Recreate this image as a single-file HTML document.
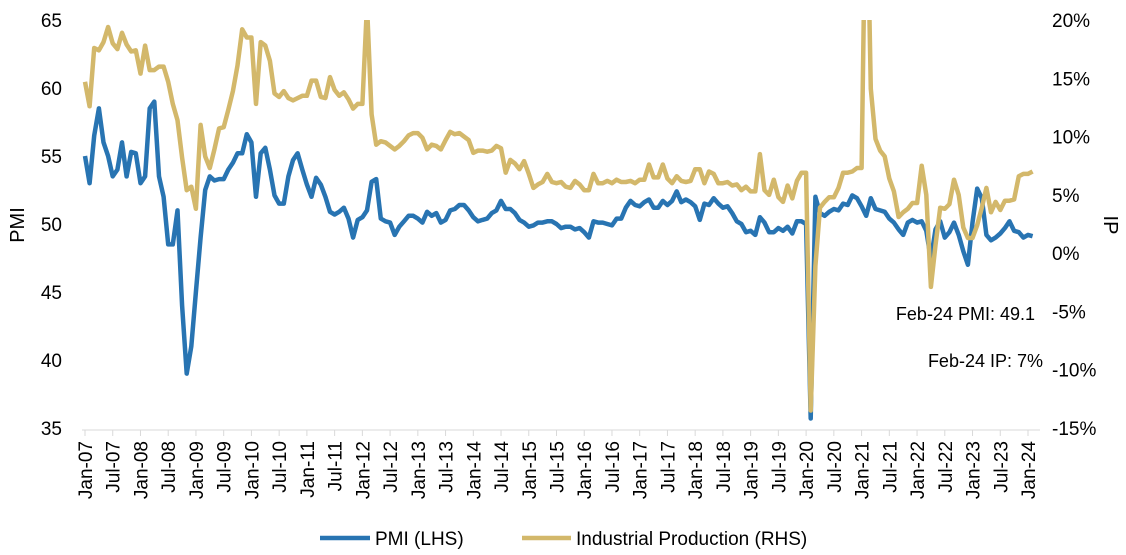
<!DOCTYPE html>
<html><head><meta charset="utf-8"><style>
body{margin:0;background:#fff;}
svg{display:block;font-family:"Liberation Sans",sans-serif;}
</style></head><body>
<svg id="c" width="1126" height="555"></svg>
<script>
const years=['07','08','09','10','11','12','13','14','15','16','17','18','19','20','21','22','23','24'];
const pmi=[55,53,56.5,58.5,56,55,53.5,54,56,53.5,55.3,55.2,
53,53.5,58.5,59,53.5,52,48.5,48.5,51,44,39,41,
45,49,52.5,53.5,53.2,53.3,53.3,54,54.5,55.2,55.2,56.6,
56,52,55.2,55.6,54,52.1,51.5,51.5,53.5,54.7,55.2,54,
52.9,52,53.4,52.9,52,50.9,50.7,50.9,51.2,50.4,49,50.3,
50.5,51,53.1,53.3,50.4,50.2,50.1,49.2,49.8,50.2,50.6,50.6,
50.4,50.1,50.9,50.6,50.8,50.1,50.3,51,51.1,51.4,51.4,51,
50.5,50.2,50.3,50.4,50.8,51,51.7,51.1,51.1,50.8,50.3,50.1,
49.8,49.9,50.1,50.1,50.2,50.2,50,49.7,49.8,49.8,49.6,49.7,
49.4,49,50.2,50.1,50.1,50,49.9,50.4,50.4,51.2,51.7,51.4,
51.3,51.6,51.8,51.2,51.2,51.7,51.4,51.7,52.4,51.6,51.8,51.6,
51.3,50.3,51.5,51.4,51.9,51.5,51.2,51.3,50.8,50.2,50,49.4,
49.5,49.2,50.5,50.1,49.4,49.4,49.7,49.5,49.8,49.3,50.2,50.2,
50,35.7,52,50.8,50.6,50.9,51.1,51,51.5,51.4,52.1,51.9,
51.3,50.6,51.9,51.1,51,50.9,50.4,50.1,49.6,49.2,50.1,50.3,
50.1,50.2,49.5,47.4,49.6,50.2,49,49.4,50.1,49.2,48,47,
50.1,52.6,51.9,49.2,48.8,49,49.3,49.7,50.2,49.5,49.4,49,
49.2,49.1];
const ip=[14.7,12.6,17.6,17.4,18.1,19.4,18.0,17.5,18.9,17.9,17.3,17.4,
15.4,17.8,15.7,15.7,16.0,16.0,14.7,12.8,11.4,8.2,5.4,5.7,
3.8,11.0,8.3,7.3,8.9,10.7,10.8,12.3,13.9,16.1,19.2,18.5,
18.5,12.8,18.1,17.8,16.5,13.7,13.4,13.9,13.3,13.1,13.3,13.5,
13.5,14.8,14.8,13.4,13.3,15.1,14.0,13.5,13.8,13.2,12.4,12.8,
12.8,21.3,11.9,9.3,9.6,9.5,9.2,8.9,9.2,9.6,10.1,10.3,
10.3,9.9,8.9,9.3,9.2,8.9,9.7,10.4,10.2,10.3,10.0,9.7,
8.6,8.8,8.8,8.7,8.8,9.2,9.0,6.9,8.0,7.7,7.2,7.9,
6.8,5.6,5.9,6.1,6.8,6.1,6.0,6.1,5.7,5.6,6.2,5.9,
5.4,5.4,6.8,6.0,6.0,6.2,6.0,6.3,6.1,6.1,6.2,6.0,
6.3,6.3,7.6,6.5,6.5,7.6,6.4,6.0,6.6,6.2,6.1,6.2,
7.2,7.2,6.0,7.0,6.8,6.0,6.0,6.1,5.8,5.9,5.4,5.7,
5.3,5.3,8.5,5.4,5.0,6.3,4.8,4.4,5.8,4.7,6.2,6.9,
6.9,-13.5,-1.1,3.9,4.4,4.8,4.8,5.6,6.9,6.9,7.0,7.3,
7.3,35,14.1,9.8,8.8,8.3,6.4,5.3,3.1,3.5,3.8,4.3,
4.3,7.5,5.0,-2.9,0.7,3.9,3.8,4.2,6.3,5.0,2.2,1.3,
1.3,2.4,3.9,5.6,3.5,4.4,3.7,4.5,4.5,4.6,6.6,6.8,
6.8,7.0];
const leftTicks=[35,40,45,50,55,60,65];
const rightTicks=[-15,-10,-5,0,5,10,15,20];
const NS='http://www.w3.org/2000/svg';
const svg=document.getElementById('c');
const X0=85,X1=1028,TOP=20,BOT=428;
const x=i=>X0+i*(X1-X0)/204;
const yL=v=>TOP+(65-v)*(BOT-TOP)/30;
const yR=v=>TOP+(20-v)*(BOT-TOP)/35;
function mk(t,a,txt){const e=document.createElementNS(NS,t);for(const k in a)e.setAttribute(k,a[k]);if(txt!==undefined)e.textContent=txt;svg.appendChild(e);return e;}
const defs=mk('defs',{});
const cp=document.createElementNS(NS,'clipPath');cp.setAttribute('id','clip');
const r=document.createElementNS(NS,'rect');r.setAttribute('x',70);r.setAttribute('y',TOP);r.setAttribute('width',990);r.setAttribute('height',BOT-TOP+10);cp.appendChild(r);defs.appendChild(cp);
let e=mk('line',{x1:82,x2:1040,y1:BOT+2,y2:BOT+2,stroke:'#d9d9d9','stroke-width':1});


for(let i=0;i<=34;i++){const xi=x(i*6);
 e=mk('line',{x1:xi,x2:xi,y1:BOT+2,y2:BOT+8,stroke:'#d9d9d9'});
 
 
 const lab=(i%2?'Jul-':'Jan-')+years[Math.floor(i/2)];
 e=mk('text',{x:0,y:0,transform:`translate(${xi+7},${BOT+13}) rotate(-90)`,'text-anchor':'end','font-size':19,fill:'#000'},lab);
 
 
}
leftTicks.forEach(v=>{e=mk('text',{x:62,y:yL(v)+7,'text-anchor':'end','font-size':19,fill:'#000'},v);
 
 });
rightTicks.forEach(v=>{e=mk('text',{x:1052,y:yR(v)+7,'font-size':19,fill:'#000'},v+'%');
 
 });
e=mk('text',{x:0,y:0,transform:'translate(24,225) rotate(-90)','text-anchor':'middle','font-size':20},'PMI');


e=mk('text',{x:0,y:0,transform:'translate(1104,225) rotate(90)','text-anchor':'middle','font-size':20},'IP');


const g=mk('g',{'clip-path':'url(#clip)'});
function line(arr,yf,col,name){const p=document.createElementNS(NS,'polyline');
 p.setAttribute('points',arr.map((v,i)=>x(i).toFixed(1)+','+yf(v).toFixed(1)).join(' '));
 p.setAttribute('fill','none');p.setAttribute('stroke',col);p.setAttribute('stroke-width',4.5);p.setAttribute('stroke-linejoin','round');
 
 
 g.appendChild(p);}
line(pmi,yL,'#2874b2','pmi-line');
line(ip,yR,'#d3b86b','ip-line');
e=mk('text',{x:1035,y:320,'text-anchor':'end','font-size':18},'Feb-24 PMI: 49.1');


e=mk('text',{x:1043,y:367,'text-anchor':'end','font-size':18},'Feb-24 IP: 7%');


e=mk('line',{x1:320,x2:370,y1:538,y2:538,stroke:'#2874b2','stroke-width':4.5});


e=mk('text',{x:375,y:545,'font-size':19},'PMI (LHS)');


e=mk('line',{x1:522,x2:571,y1:538,y2:538,stroke:'#d3b86b','stroke-width':4.5});


e=mk('text',{x:576,y:545,'font-size':19},'Industrial Production (RHS)');


</script>
</body></html>
